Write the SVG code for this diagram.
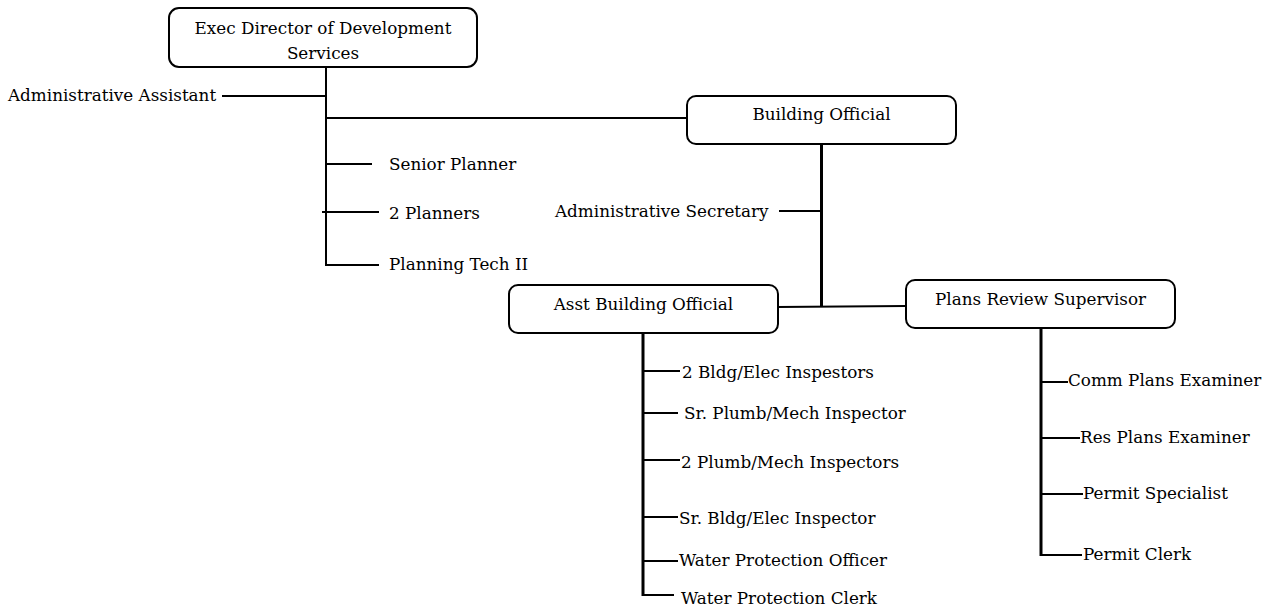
<svg xmlns="http://www.w3.org/2000/svg" width="1284" height="610" viewBox="0 0 1284 610">
<style>
text{font-family:"DejaVu Serif",serif;font-size:16.8px;fill:#000}
.box{fill:#fff;stroke:#000;stroke-width:2}
.c{text-anchor:middle}
.ln{stroke:#000;stroke-width:2;fill:none}
.th{stroke:#000;stroke-width:3;fill:none}
</style>
<rect width="1284" height="610" fill="#fff"/>
<g id="connectors">
<line class="ln" x1="326" y1="67" x2="326" y2="266"/>
<line class="ln" x1="222" y1="96" x2="327" y2="96"/>
<line class="ln" x1="327" y1="118" x2="687" y2="118"/>
<line class="ln" x1="326" y1="164" x2="372" y2="164"/>
<line class="ln" x1="322" y1="212" x2="379" y2="212"/>
<line class="ln" x1="325" y1="265" x2="379" y2="265"/>
<line class="th" x1="821.5" y1="144" x2="821.5" y2="307"/>
<line class="ln" x1="779" y1="211" x2="821" y2="211"/>
<line class="ln" x1="777" y1="307" x2="906" y2="306"/>
<line class="th" x1="643" y1="333" x2="643" y2="596"/>
<line class="ln" x1="643" y1="371" x2="680" y2="371"/>
<line class="ln" x1="643" y1="413" x2="678" y2="413"/>
<line class="ln" x1="643" y1="460" x2="680" y2="460"/>
<line class="ln" x1="643" y1="517" x2="678" y2="517"/>
<line class="ln" x1="643" y1="561" x2="678" y2="561"/>
<line class="ln" x1="643" y1="595" x2="674" y2="595"/>
<line class="th" x1="1041" y1="328" x2="1041" y2="556"/>
<line class="ln" x1="1041" y1="382" x2="1068" y2="382"/>
<line class="ln" x1="1041" y1="438" x2="1080" y2="438"/>
<line class="ln" x1="1041" y1="494" x2="1083" y2="494"/>
<line class="ln" x1="1041" y1="555" x2="1082" y2="555"/>
</g>
<g id="exec">
<rect class="box" x="169" y="8" width="308" height="59" rx="10"/>
<text class="c" x="323" y="34">Exec Director of Development</text>
<text class="c" x="323" y="59">Services</text>
</g>
<g id="admin-assistant"><text x="8" y="101">Administrative Assistant</text></g>
<g id="senior-planner"><text x="389" y="170">Senior Planner</text></g>
<g id="planners"><text x="389" y="219">2 Planners</text></g>
<g id="planning-tech"><text x="389" y="270">Planning Tech II</text></g>
<g id="building-official">
<rect class="box" x="687" y="96" width="269" height="48" rx="9"/>
<text class="c" x="821.5" y="120">Building Official</text>
</g>
<g id="admin-secretary"><text x="555" y="217">Administrative Secretary</text></g>
<g id="asst-building-official">
<rect class="box" x="509" y="285" width="269" height="48" rx="9"/>
<text class="c" x="643.5" y="310">Asst Building Official</text>
</g>
<g id="plans-review-supervisor">
<rect class="box" x="906" y="280" width="269" height="48" rx="9"/>
<text class="c" x="1040.5" y="305">Plans Review Supervisor</text>
</g>
<g id="bldg-elec-inspectors"><text x="682" y="378">2 Bldg/Elec Inspestors</text></g>
<g id="sr-plumb-mech"><text x="684" y="419">Sr. Plumb/Mech Inspector</text></g>
<g id="plumb-mech-inspectors"><text x="681" y="468">2 Plumb/Mech Inspectors</text></g>
<g id="sr-bldg-elec"><text x="679" y="524">Sr. Bldg/Elec Inspector</text></g>
<g id="water-officer"><text x="679" y="566">Water Protection Officer</text></g>
<g id="water-clerk"><text x="681" y="604">Water Protection Clerk</text></g>
<g id="comm-plans"><text x="1068" y="386">Comm Plans Examiner</text></g>
<g id="res-plans"><text x="1080" y="443">Res Plans Examiner</text></g>
<g id="permit-specialist"><text x="1083" y="499">Permit Specialist</text></g>
<g id="permit-clerk"><text x="1083" y="560">Permit Clerk</text></g>
</svg>
